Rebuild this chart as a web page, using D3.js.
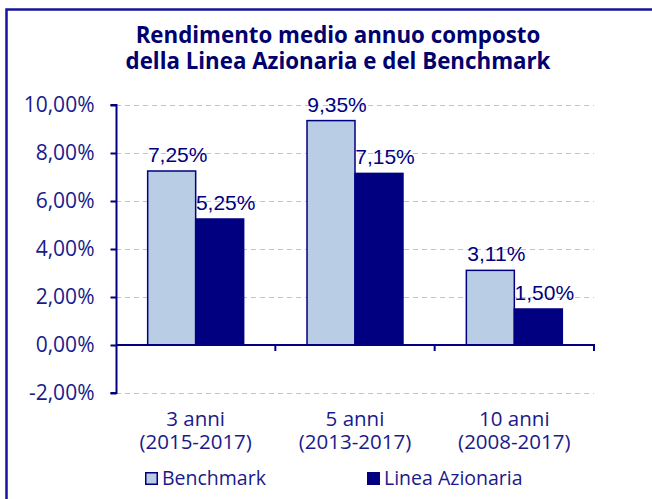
<!DOCTYPE html>
<html><head><meta charset="utf-8">
<script src="https://cdn.jsdelivr.net/npm/d3@7"></script>
<style>body{margin:0;background:#fff}svg{display:block}</style>
</head><body>
<svg id="c" width="652" height="499"></svg>
<script>
const categories = ["3 anni", "5 anni", "10 anni"];
const periods = ["(2015-2017)", "(2013-2017)", "(2008-2017)"];
const seriesNames = ["Benchmark", "Linea Azionaria"];
const benchmark = [7.25, 9.35, 3.11];
const lineaAzionaria = [5.25, 7.15, 1.50];
const yTicks = [-2, 0, 2, 4, 6, 8, 10];
const titleLines = ["Rendimento medio annuo composto", "della Linea Azionaria e del Benchmark"];

const navy = "#000080", light = "#b9cde5";
const svg = d3.select("#c");
const fmt = v => d3.format(".2f")(v).replace(".", ",").replace("\u2212", "-") + "%";

// frame
svg.append("path").attr("d", "M6.5,499 L6.5,9.5 L652,9.5").attr("fill", "none").attr("stroke", "#14149a").attr("stroke-width", 2.5);

// title
svg.append("g").selectAll("text").data(titleLines).join("text")
  .attr("x", 338).attr("y", (d, i) => 43 + i * 26)
  .attr("text-anchor", "middle").attr("fill", "#00006e")
  .style("font-family", "'Open Sans', sans-serif").style("font-weight", "bold").style("font-size", "22.3px")
  .text(d => d);

const x0 = d3.scaleBand().domain(categories).range([116, 594]);
const x1 = d3.scaleBand().domain(seriesNames).range([0, x0.bandwidth()]).paddingOuter(0.66).paddingInner(0);
const y = d3.scaleLinear().domain([-2, 10]).range([393, 105]);

// gridlines
svg.append("g").selectAll("line").data(yTicks.filter(t => t !== 0)).join("line")
  .attr("x1", 116).attr("x2", 594).attr("y1", d => y(d) + 0.5).attr("y2", d => y(d) + 0.5)
  .attr("stroke", "#c4c4c4").attr("stroke-width", 1).attr("stroke-dasharray", "5,4");

// bars
const data = categories.map((c, i) => ({c, vals: [benchmark[i], lineaAzionaria[i]]}));
const groups = svg.append("g").selectAll("g").data(data).join("g")
  .attr("transform", d => `translate(${x0(d.c)},0)`);
groups.selectAll("rect").data(d => d.vals.map((v, j) => ({s: seriesNames[j], v}))).join("rect")
  .attr("x", d => x1(d.s)).attr("width", x1.bandwidth())
  .attr("y", d => y(Math.max(0, d.v))).attr("height", d => Math.abs(y(d.v) - y(0)))
  .attr("fill", d => d.s === seriesNames[0] ? light : navy)
  .attr("stroke", navy).attr("stroke-width", 1.5);
groups.selectAll("text").data(d => d.vals.map((v, j) => ({s: seriesNames[j], v}))).join("text")
  .attr("x", d => x1(d.s) + x1.bandwidth() / 2 + 6).attr("y", d => y(d.v) - 9)
  .attr("text-anchor", "middle").attr("fill", navy)
  .style("font-family", "'Liberation Sans', Arial, sans-serif").style("font-size", "21px")
  .text(d => fmt(d.v));

// y axis
const yAxis = svg.append("g").attr("transform", "translate(116.5,0)")
  .call(d3.axisLeft(y).tickValues(yTicks).tickSize(6).tickPadding(16).tickFormat(fmt));
yAxis.select(".domain").attr("stroke", navy).attr("stroke-width", 2).attr("d", `M-6,${y(-2)}H0V${y(10)}H-6`);
yAxis.selectAll(".tick line").attr("stroke", navy).attr("stroke-width", 2);
yAxis.selectAll(".tick text").attr("fill", "#1a1a8a")
  .style("font-family", "'Open Sans', sans-serif").style("font-size", "21px");

// x axis at zero
const xAxis = svg.append("g").attr("transform", `translate(0,${y(0)})`)
  .call(d3.axisBottom(x0).tickSize(0).tickFormat(""));
xAxis.select(".domain").attr("stroke", navy).attr("stroke-width", 2).attr("d", `M116,0H594V6`);
svg.append("g").selectAll("line").data(categories.slice(1)).join("line")
  .attr("x1", d => x0(d)).attr("x2", d => x0(d)).attr("y1", y(0)).attr("y2", y(0) + 6)
  .attr("stroke", navy).attr("stroke-width", 2);

// category labels (two lines)
const labelStyle = sel => sel.attr("text-anchor", "middle").attr("fill", "#1a1a8a")
  .style("font-family", "'Open Sans', sans-serif").style("font-size", "20.5px");
svg.append("g").selectAll("text").data(categories).join("text").call(labelStyle)
  .attr("x", d => x0(d) + x0.bandwidth() / 2).attr("y", 426).text(d => d);
svg.append("g").selectAll("text").data(categories).join("text").call(labelStyle)
  .attr("x", d => x0(d) + x0.bandwidth() / 2).attr("y", 449).text((d, i) => periods[i]);

// legend
const legX = [145, 367];
const leg = svg.append("g").selectAll("g").data(seriesNames).join("g")
  .attr("transform", (d, i) => `translate(${legX[i]},472)`);
leg.append("rect").attr("x", 0.75).attr("y", 0.75).attr("width", 11.5).attr("height", 11.5)
  .attr("fill", (d, i) => i === 0 ? light : navy).attr("stroke", navy).attr("stroke-width", 1.5);
leg.append("text").attr("x", 17).attr("y", 12.5).attr("fill", "#1a1a8a")
  .style("font-family", "'Open Sans', sans-serif").style("font-size", "19.5px").text(d => d);
</script>
</body></html>
